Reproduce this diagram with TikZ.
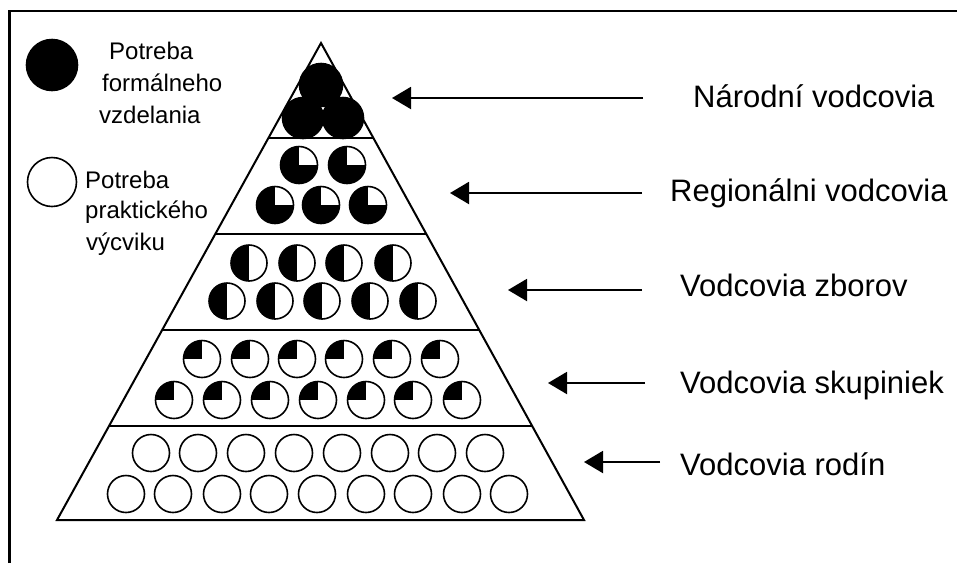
\documentclass[tikz,border=0pt]{standalone}
\usepackage{fontspec}
\setmainfont{Liberation Sans}
\usetikzlibrary{arrows.meta,calc}
\begin{document}
\begin{tikzpicture}[x=1pt,y=1pt,
 ball/.style={circle,draw,line width=1.6pt,inner sep=0pt,minimum size=#1},
 ball/.default=37pt,
 fullb/.style={ball=#1,fill=black},
 fullb/.default=41pt,
 threeq/.style={ball,path picture={\fill[black] (path picture bounding box.south west) rectangle (path picture bounding box.north east); \fill[white] (path picture bounding box.center) rectangle (path picture bounding box.north east);}},
 halfb/.style={ball=36pt,path picture={\fill[black] (path picture bounding box.south west) rectangle (path picture bounding box.north);}},
 quart/.style={ball,path picture={\fill[black] (path picture bounding box.west) rectangle (path picture bounding box.north);}},
 emptyb/.style={ball},
 lbl/.style={anchor=base west,inner sep=0pt,font=\fontsize{31}{36}\selectfont},
 leg/.style={anchor=base west,inner sep=0pt,font=\fontsize{24}{28}\selectfont},
 arr/.style={line width=2pt,-{Triangle[length=19pt,width=22pt]}},
 pyr/.style={line width=2pt,line join=miter}
]
\useasboundingbox (0,0) rectangle (957,-563);
% frame
\draw[line width=2.5pt] (9.5,-563) -- (9.5,-11) -- (957,-11);

% pyramid
\coordinate (apex) at (321,-43);
\coordinate (bl) at (57,-520);
\coordinate (br) at (584,-520);
\draw[pyr] (apex) -- (bl) -- (br) -- cycle;
\foreach \t/\n in {0.199/1,0.4004/2,0.6017/3,0.803/4}{
  \coordinate (l\n) at ($(apex)!\t!(bl)$);
  \coordinate (r\n) at ($(apex)!\t!(br)$);
  \draw[pyr] (l\n) -- (r\n);
}

% level 1
\node[fullb=43pt] (c1-1) at (321,-85) {};
\node[fullb] (c1-2) at (303,-118) {};
\node[fullb] (c1-3) at (343,-118) {};
% level 2
\foreach \x [count=\i] in {299,347}{\node[threeq] (c2a-\i) at (\x,-165) {};}
\foreach \x [count=\i] in {275,321,368}{\node[threeq] (c2b-\i) at (\x,-205) {};}
% level 3
\foreach \x [count=\i] in {249,297,344,393}{\node[halfb] (c3a-\i) at (\x,-263) {};}
\foreach \x [count=\i] in {227,275,322,370,418}{\node[halfb] (c3b-\i) at (\x,-301) {};}
% level 4
\foreach \x [count=\i] in {202,250,297,344,392,440}{\node[quart] (c4a-\i) at (\x,-359) {};}
\foreach \x [count=\i] in {174,222,270,318,366,413,462}{\node[quart] (c4b-\i) at (\x,-400) {};}
% level 5
\foreach \x [count=\i] in {151,198,246,294,342,390,437,485}{\node[emptyb] (c5a-\i) at (\x,-453) {};}
\foreach \x [count=\i] in {126,173,222,269,317,366,413,462,509}{\node[emptyb] (c5b-\i) at (\x,-494) {};}

% legend
\node[fullb=51pt] (legf) at (52,-65) {};
\node[ball=49pt] (lege) at (52,-182) {};
\node[leg] (lf1) at (109,-59) {Potreba};
\node[leg] (lf2) at (102,-91) {formálneho};
\node[leg] (lf3) at (99,-123) {vzdelania};
\node[leg] (le1) at (85,-188) {Potreba};
\node[leg] (le2) at (85,-218) {praktického};
\node[leg] (le3) at (86,-250) {výcviku};

% labels
\node[lbl] (t1) at (693,-107) {Národní vodcovia};
\node[lbl] (t2) at (670,-201) {Regionálni vodcovia};
\node[lbl] (t3) at (680,-296) {Vodcovia zborov};
\node[lbl] (t4) at (680,-393) {Vodcovia skupiniek};
\node[lbl] (t5) at (680,-475) {Vodcovia rodín};

% arrows
\coordinate (a1s) at (643,-98);  \coordinate (a1e) at (392,-98);
\coordinate (a2s) at (642,-193); \coordinate (a2e) at (450,-193);
\coordinate (a3s) at (642,-290); \coordinate (a3e) at (508,-290);
\coordinate (a4s) at (645,-383); \coordinate (a4e) at (548,-383);
\coordinate (a5s) at (660,-462); \coordinate (a5e) at (584,-462);
\foreach \n in {1,...,5}{\draw[arr] (a\n s) -- (a\n e);}
\end{tikzpicture}
\end{document}
